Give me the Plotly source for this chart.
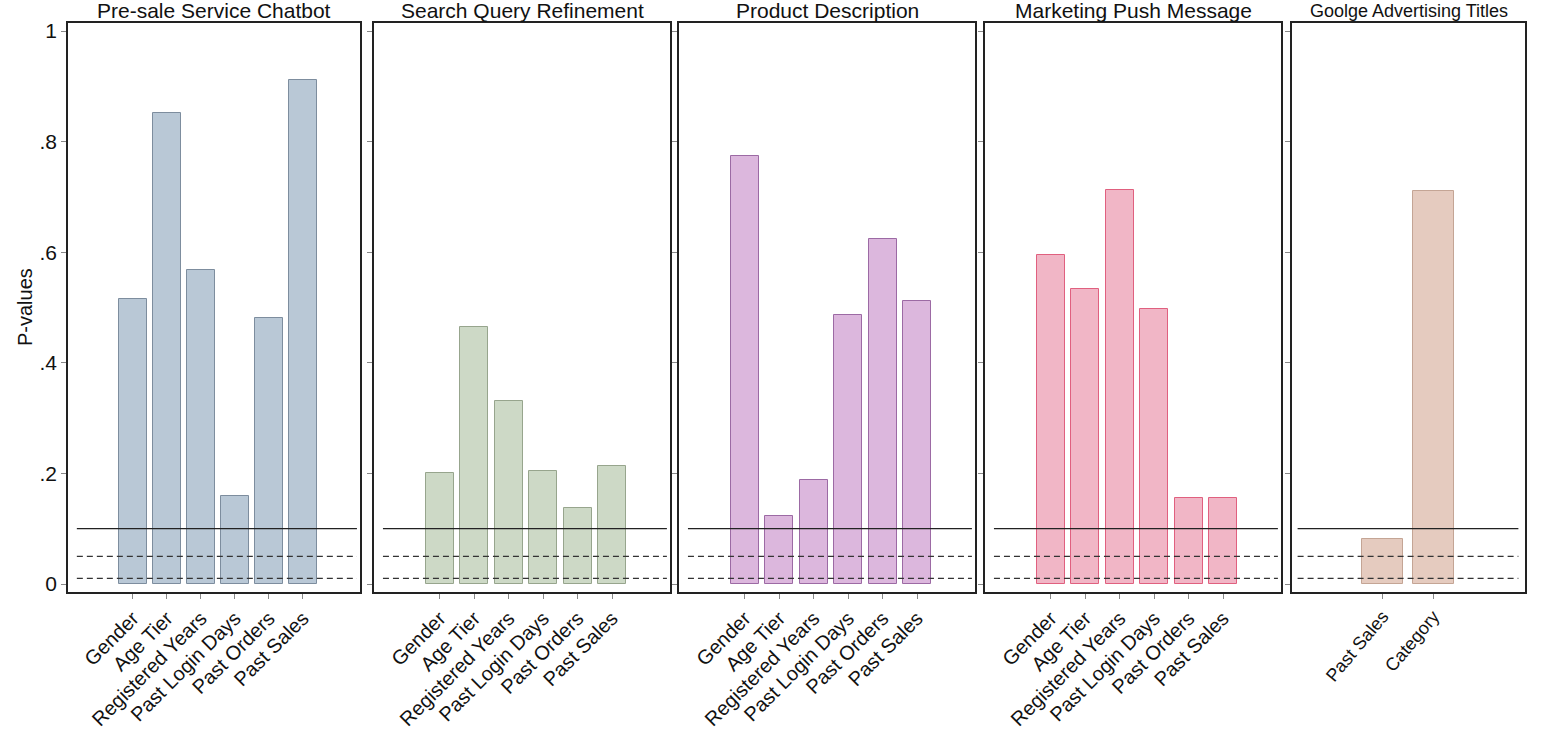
import plotly.graph_objects as go

W, H = 1549, 729

titles = ["Pre-sale Service Chatbot", "Search Query Refinement", "Product Description",
          "Marketing Push Message", "Goolge Advertising Titles"]
vars6 = ["Gender", "Age Tier", "Registered Years", "Past Login Days", "Past Orders", "Past Sales"]
vars_g = ["Past Sales", "Category"]

p_chatbot = [0.515, 0.852, 0.568, 0.159, 0.481, 0.911]
p_search = [0.201, 0.465, 0.331, 0.204, 0.137, 0.213]
p_product = [0.774, 0.123, 0.188, 0.486, 0.624, 0.512]
p_push = [0.595, 0.533, 0.712, 0.497, 0.156, 0.156]
p_google = [0.081, 0.711]

thresholds = [0.10, 0.05, 0.01]
yticks = [0, 0.2, 0.4, 0.6, 0.8, 1.0]
yticklabels = ["0", ".2", ".4", ".6", ".8", "1"]

fills = ["#b9c8d6", "#cdd9c6", "#dcb7dd", "#f1b6c6", "#e5cbbf"]
edges = ["#7d8d9e", "#97a58d", "#9c6aa4", "#e0607f", "#c4a595"]

panels_px = [(68, 360), (374, 670), (679, 975), (985, 1281), (1292, 1525)]
top_px, bot_px = 23, 592


def px(v):
    return v / W


def py(v):
    return 1 - v / H


series = [(vars6, p_chatbot), (vars6, p_search), (vars6, p_product), (vars6, p_push), (vars_g, p_google)]

fig = go.Figure()
font = "Arial, Liberation Sans, sans-serif"
narrow = "Liberation Sans Narrow, Arial Narrow, Arial, sans-serif"
ydom = [py(bot_px), py(top_px)]
yr = [-8 / 553, 1 + 8 / 553]

for i, ((cats, vals), (x0, x1)) in enumerate(zip(series, panels_px)):
    n = i + 1
    xa = "x" if n == 1 else f"x{n}"
    ya = "y" if n == 1 else f"y{n}"
    xs = list(range(1, len(cats) + 1))
    fig.add_trace(go.Bar(x=xs, y=vals, width=0.82, xaxis=xa, yaxis=ya,
                         marker=dict(color=fills[i], line=dict(color=edges[i], width=1)),
                         showlegend=False, hoverinfo="skip"))
    if len(cats) == 6:
        xr = [-0.91, 7.68]
        lx = [-0.65, 7.59]
        tfont = dict(size=20, color="#111", family=font)
        ang = -45
    else:
        xr = [-0.78, 3.8]
        lx = [-0.67, 3.67]
        tfont = dict(size=18, color="#111", family=narrow)
        ang = -50
    key = "xaxis" if n == 1 else f"xaxis{n}"
    ykey = "yaxis" if n == 1 else f"yaxis{n}"
    fig.layout[key] = dict(domain=[px(x0), px(x1)], range=xr, anchor=ya, automargin=False,
                           tickmode="array", tickvals=xs, ticktext=cats, tickangle=ang,
                           ticks="outside", ticklen=5, tickcolor="#888",
                           tickfont=tfont,
                           showline=True, mirror=True, linecolor="#222", linewidth=1.5,
                           showgrid=False, zeroline=False, fixedrange=True)
    fig.layout[ykey] = dict(domain=ydom, range=yr, anchor=xa, automargin=False,
                            tickmode="array", tickvals=yticks,
                            ticktext=yticklabels if n == 1 else [""] * 6,
                            ticks="outside", ticklen=5, tickcolor="#888",
                            tickfont=dict(size=21, color="#111", family=font),
                            showline=True, mirror=True, linecolor="#222", linewidth=1.5,
                            showgrid=False, zeroline=False, fixedrange=True)
    for t, dash in zip(thresholds, ["solid", "6px,4px", "6px,4px"]):
        fig.add_shape(type="line", xref=xa, yref=ya, x0=lx[0], x1=lx[1], y0=t, y1=t,
                      line=dict(color="#222" if dash == "solid" else "#333", width=1.2, dash=dash))
    fig.add_annotation(text=titles[i], xref="paper", yref="paper",
                       x=px((x0 + x1) / 2), y=py(11), showarrow=False,
                       xanchor="center", yanchor="middle",
                       font=dict(size=21, color="#111", family=font) if n < 5
                       else dict(size=18, color="#111", family=narrow))

fig.add_annotation(text="P-values", xref="paper", yref="paper", x=px(25), y=py(307),
                   showarrow=False, textangle=-90, xanchor="center", yanchor="middle",
                   font=dict(size=20, color="#111", family=font))

fig.update_layout(width=W, height=H, margin=dict(l=0, r=0, t=0, b=0),
                  plot_bgcolor="white", paper_bgcolor="white", bargap=0)
fig.write_html("out.html", config={"displayModeBar": False},
               post_script="document.body.style.margin='0';document.body.style.overflow='hidden';")
